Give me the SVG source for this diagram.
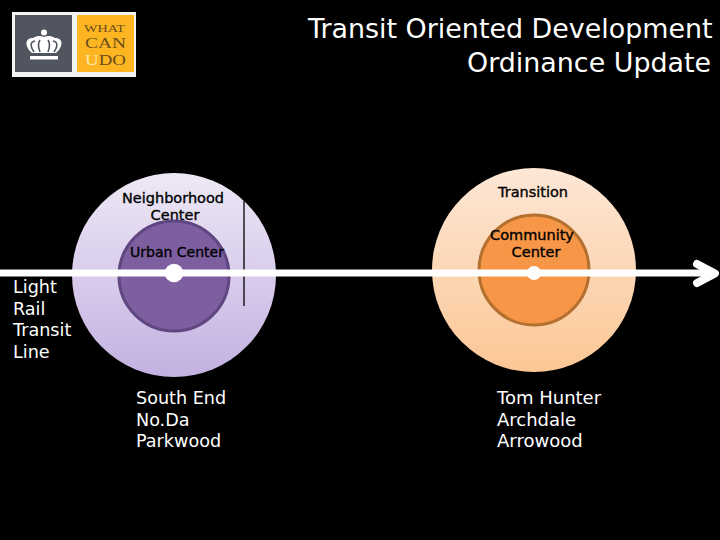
<svg xmlns="http://www.w3.org/2000/svg" width="720" height="540" viewBox="0 0 720 540">
<style>
text{font-family:"DejaVu Sans","Liberation Sans",sans-serif}
.t{fill:#fff;font-size:26.9px}
.w{fill:#fff;font-size:18px}
.n{font-size:17.6px}
.k{fill:#000;font-size:14.5px;text-anchor:middle;stroke:#000;stroke-width:.35px}
.l{font-family:"Liberation Serif",serif;fill:#6b4d1c}
.c{stroke:#fff;fill:none}
</style>
<defs>
<linearGradient id="p" x1="0" y1="0" x2="0" y2="1"><stop offset="0" stop-color="#eee8f6"/><stop offset="1" stop-color="#c3b1e1"/></linearGradient>
<linearGradient id="o" x1="0" y1="0" x2="0" y2="1"><stop offset="0" stop-color="#fde7d6"/><stop offset="1" stop-color="#fcc795"/></linearGradient>
</defs>
<rect width="720" height="540" fill="#000"/>
<g id="logo">
<rect x="12" y="12" width="124" height="65" fill="#f2f2f2"/>
<rect x="15" y="15" width="57" height="57" fill="#50555f"/>
<rect x="77" y="15" width="57" height="57" fill="#fdb522"/>
<circle cx="44" cy="32.500" r="3" fill="#fff"/>
<path d="M32 53C25 47 24 38 33 38C38 35 41 36 44 37C47 36 50 35 55 38C64 38 63 47 56 53Z" fill="#fff"/>
<path d="M34 52C30 46 30 42 35 41M40 52C38 47 38 43 40 40M48 52C50 47 50 43 48 40M54 52C58 46 58 42 53 41" fill="none" stroke="#50555f" stroke-width="1.6"/>
<rect x="30" y="56" width="28" height="3.500" fill="#fff"/>
<text class="l" x="84" y="32" font-size="11" textLength="41" lengthAdjust="spacingAndGlyphs">WHAT</text>
<text class="l" x="85" y="48" font-size="14.500" textLength="41" lengthAdjust="spacingAndGlyphs">CAN</text>
<text class="l" x="85" y="65" font-size="14.500" textLength="41" lengthAdjust="spacingAndGlyphs"><tspan fill="#ffe9a6">U</tspan>DO</text>
</g>
<g id="title">
<text class="t" x="308" y="38">Transit Oriented Development</text>
<text class="t" x="467" y="72">Ordinance Update</text>
</g>
<g id="neighborhood-center">
<circle cx="174" cy="275" r="102" fill="url(#p)"/>
<text class="k" x="173" y="203">Neighborhood</text>
<text class="k" x="175" y="220">Center</text>
</g>
<g id="urban-center">
<circle cx="174" cy="276" r="55" fill="#7d5fa0" stroke="#5f4680" stroke-width="3"/>
<text class="k" x="177" y="257" style="font-size:14px">Urban Center</text>
</g>
<g id="transition">
<circle cx="534" cy="270" r="102" fill="url(#o)"/>
<text class="k" x="533" y="197">Transition</text>
</g>
<g id="community-center">
<circle cx="534" cy="270" r="55" fill="#f79646" stroke="#b3702f" stroke-width="3"/>
<text class="k" x="532" y="240">Community</text>
<text class="k" x="536" y="257">Center</text>
</g>
<g id="connectors">
<path d="M244 201V306" stroke="#000" stroke-width="1.3" fill="none"/>
<path class="c" stroke-width="7" d="M0 273H712"/>
<path class="c" stroke-width="8" stroke-linecap="round" stroke-linejoin="round" d="M697 264L715 273.500L697 283"/>
</g>
<g id="stations">
<circle cx="174" cy="273" r="9.300" fill="#fff"/>
<circle cx="534" cy="273" r="7" fill="#fff"/>
</g>
<g id="labels">
<text class="w n" x="13" y="293">Light</text>
<text class="w n" x="13" y="315">Rail</text>
<text class="w n" x="13" y="336">Transit</text>
<text class="w n" x="13" y="358">Line</text>
<text class="w n" x="136" y="404">South End</text>
<text class="w n" x="136" y="426">No.Da</text>
<text class="w n" x="136" y="447">Parkwood</text>
<text class="w" x="497" y="404">Tom Hunter</text>
<text class="w" x="497" y="426">Archdale</text>
<text class="w" x="497" y="447">Arrowood</text>
</g>
</svg>
